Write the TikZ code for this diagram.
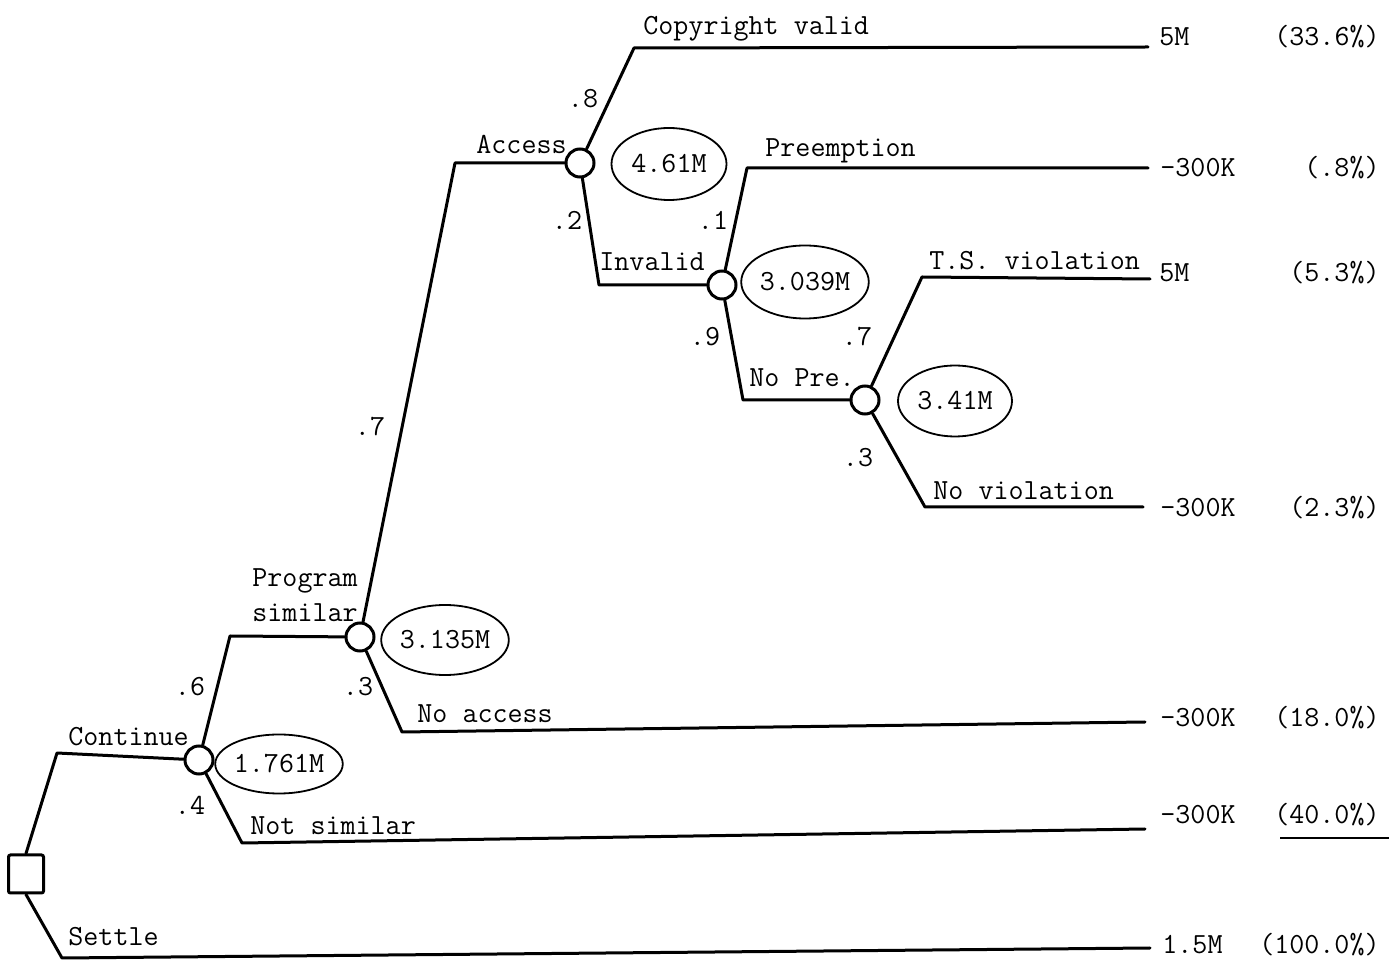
\documentclass[tikz,border=0pt]{standalone}
\usepackage{fontspec}
\usetikzlibrary{shapes.geometric}
\begin{document}
\begin{tikzpicture}[x=0.5pt,y=-0.5pt,
  every node/.style={font=\ttfamily\fontsize{14.6}{17}\selectfont},
  br/.style={line width=1.5pt, line join=round, line cap=round},
  chance/.style={circle, draw, line width=1.5pt, minimum size=14pt, inner sep=0pt, fill=white},
  dec/.style={rectangle, draw, line width=1.5pt, minimum width=17.5pt, minimum height=19pt, inner sep=0pt, rounded corners=1pt},
  ev/.style={ellipse, draw, line width=0.9pt, inner sep=0pt},
  lab/.style={anchor=base west, inner sep=0pt},
  pay/.style={anchor=base west, inner sep=0pt},
  pct/.style={anchor=base east, inner sep=0pt},
  prob/.style={inner sep=0pt}]
\useasboundingbox (0,0) rectangle (1389,962);

% decision and chance nodes
\node[dec] (D) at (26,874) {};
\node[chance] (C1) at (199,760) {};
\node[chance] (C2) at (360,637) {};
\node[chance] (C3) at (580,163) {};
\node[chance] (C4) at (722,285) {};
\node[chance] (C5) at (865,400) {};

% bends
\coordinate (bCont) at (57,753);
\coordinate (bSet) at (62,958);
\coordinate (bPS) at (230,636);
\coordinate (bNS) at (242,843);
\coordinate (bAcc) at (455,163);
\coordinate (bNA) at (402,732);
\coordinate (bCV) at (634,48);
\coordinate (bInv) at (599,285);
\coordinate (bPre) at (747,168);
\coordinate (bNP) at (743,400);
\coordinate (bTS) at (922,277);
\coordinate (bNV) at (925,507);

% ends
\coordinate (eCV) at (1148,47);
\coordinate (ePre) at (1148,168);
\coordinate (eTS) at (1150,279);
\coordinate (eNV) at (1143,507);
\coordinate (eNA) at (1145,722);
\coordinate (eNS) at (1145,829);
\coordinate (eSet) at (1150,948);

% branches
\draw[br] (D.north) -- (bCont) -- (C1);
\draw[br] (D.south) -- (bSet) -- (eSet);
\draw[br] (C1) -- (bPS) -- (C2);
\draw[br] (C1) -- (bNS) -- (eNS);
\draw[br] (C2) -- (bAcc) -- (C3);
\draw[br] (C2) -- (bNA) -- (eNA);
\draw[br] (C3) -- (bCV) -- (eCV);
\draw[br] (C3) -- (bInv) -- (C4);
\draw[br] (C4) -- (bPre) -- (ePre);
\draw[br] (C4) -- (bNP) -- (C5);
\draw[br] (C5) -- (bTS) -- (eTS);
\draw[br] (C5) -- (bNV) -- (eNV);

% expected values
\node[ev, minimum width=57.5pt, minimum height=29.5pt] (E1) at (279,764) {1.761M};
\node[ev, minimum width=57pt, minimum height=35pt] (E2) at (445,640) {3.135M};
\node[ev, minimum width=57.5pt, minimum height=36pt] (E3) at (669,164) {4.61M};
\node[ev, minimum width=57pt, minimum height=36.5pt] (E4) at (805,282) {3.039M};
\node[ev, minimum width=57pt, minimum height=35.5pt] (E5) at (955,401) {3.41M};

% branch labels
\node[lab] (tCV) at (643,35) {Copyright valid};
\node[lab] (tAcc) at (476,154) {Access};
\node[lab] (tPre) at (765,157) {Preemption};
\node[lab] (tInv) at (599,271) {Invalid};
\node[lab] (tTS) at (929,270) {T.S. violation};
\node[lab] (tNP) at (749,387) {No Pre.};
\node[lab] (tNV) at (933,500) {No violation};
\node[lab] (tProg) at (252,587) {Program};
\node[lab] (tSim) at (252,622) {similar};
\node[lab] (tNA) at (417,723) {No access};
\node[lab] (tCont) at (68,746) {Continue};
\node[lab] (tNS) at (250,835) {Not similar};
\node[lab] (tSet) at (68,946) {Settle};

% probabilities
\node[prob] (p8) at (583,99) {.8};
\node[prob] (p2) at (567,220) {.2};
\node[prob] (p1) at (713,220) {.1};
\node[prob] (p9) at (705,337) {.9};
\node[prob] (p7b) at (857,337) {.7};
\node[prob] (p3b) at (858,458) {.3};
\node[prob] (p7) at (370,427) {.7};
\node[prob] (p3) at (358,687) {.3};
\node[prob] (p6) at (190,687) {.6};
\node[prob] (p4) at (190,805) {.4};

% payoffs
\node[pay] (v1) at (1159,46) {5M};
\node[pay] (v2) at (1160,177) {-300K};
\node[pay] (v3) at (1159,282) {5M};
\node[pay] (v4) at (1160,517) {-300K};
\node[pay] (v5) at (1160,727) {-300K};
\node[pay] (v6) at (1160,824) {-300K};
\node[pay] (v7) at (1162,954) {1.5M};

% percentages
\node[pct] (q1) at (1380,46) {(33.6\%)};
\node[pct] (q2) at (1380,177) {(.8\%)};
\node[pct] (q3) at (1380,282) {(5.3\%)};
\node[pct] (q4) at (1380,517) {(2.3\%)};
\node[pct] (q5) at (1380,727) {(18.0\%)};
\node[pct] (q6) at (1380,824) {(40.0\%)};
\node[pct] (q7) at (1380,954) {(100.0\%)};
\draw[line width=0.8pt] (1280,838) -- (1389,838);
\end{tikzpicture}
\end{document}
